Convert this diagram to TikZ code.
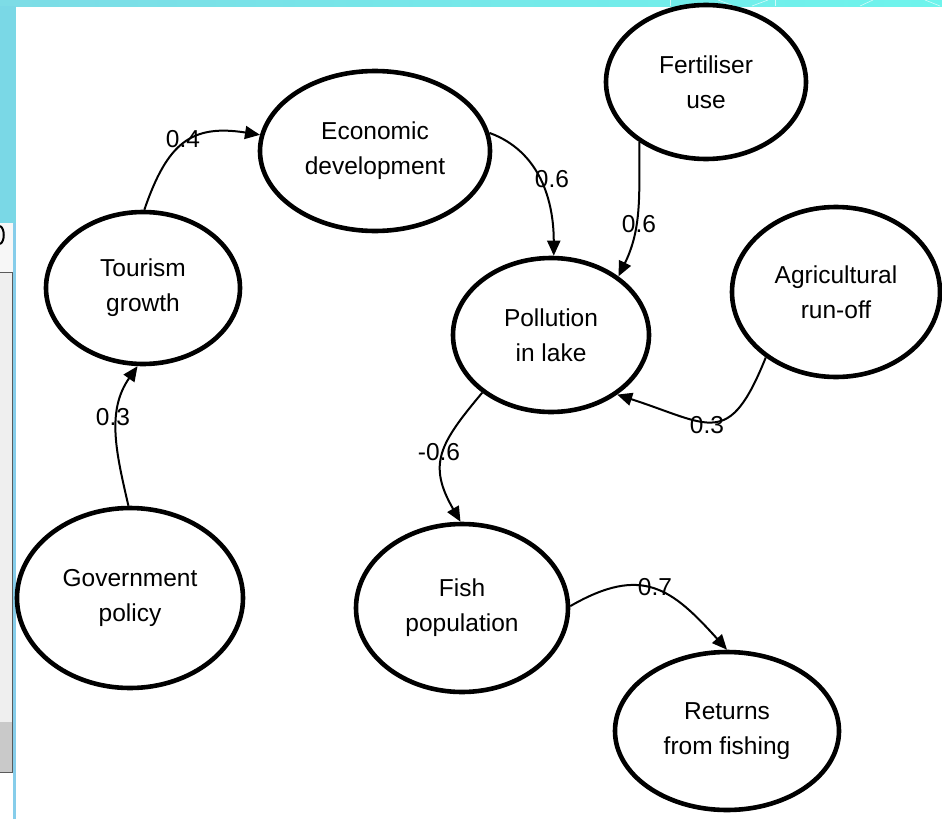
\documentclass[tikz,border=0pt]{standalone}
\usepackage{fontspec}
\setmainfont{Liberation Sans}
\usetikzlibrary{shapes.geometric,arrows.meta}

\definecolor{bandleft}{HTML}{7DDCE6}
\definecolor{bandright}{HTML}{6EF4EC}
\definecolor{stripcyan}{HTML}{7AD8E6}
\definecolor{edgeblue}{HTML}{86CDEA}
\definecolor{panelgrey}{HTML}{EFEFEF}
\definecolor{paneldark}{HTML}{C9C9C9}
\definecolor{panelline}{HTML}{5A5A5A}

\begin{document}
\begin{tikzpicture}[x=1pt,y=1pt,
  bubble/.style={ellipse, draw, line width=4.6pt, inner sep=0pt, align=center,
                 font=\fontsize{24.5}{35}\selectfont},
  link/.style={line width=2pt, -{Triangle[length=15pt,width=13pt]}},
  weight/.style={font=\fontsize{24.5}{28}\selectfont, inner sep=0pt}]

  \useasboundingbox (0,0) rectangle (942,-819);

  % page background and frame
  \fill[white] (0,0) rectangle (942,-819);
  \shade[left color=bandleft, right color=bandright] (0,0) rectangle (942,-6);
  \fill[stripcyan] (0,-6) rectangle (16,-223);
  \begin{scope}[white, opacity=0.7, line width=0.6pt]
    \draw (670,0) -- (670,-6);
    \draw (718,0) -- (734,-6);
    \draw (768,0) -- (752,-6);
    \draw (775,0) -- (775,-6);
    \draw (873,0) -- (860,-6);
    \draw (925,0) -- (940,-6);
  \end{scope}

  % side panel
  \fill[panelgrey] (0,-223) rectangle (13,-772);
  \fill[white!97!black] (0,-223) rectangle (13,-272);
  \fill[paneldark] (0,-722) rectangle (12.5,-772);
  \draw[panelline, line width=1pt] (0,-272) -- (12.5,-272) -- (12.5,-772) -- (0,-772);
  \draw[line width=2pt] (0,-226) .. controls (5,-228) and (5,-242) .. (0,-244);
  \fill[edgeblue] (13,-223) rectangle (16,-819);

  % factors
  \node[bubble, minimum width=226pt, minimum height=180pt] (gov)  at (130,-598) {Government\\policy};
  \node[bubble, minimum width=194pt, minimum height=152pt] (tour) at (143,-288) {Tourism\\growth};
  \node[bubble, minimum width=230pt, minimum height=160pt] (econ) at (375,-151) {Economic\\development};
  \node[bubble, minimum width=200pt, minimum height=154pt] (fert) at (706,-82)  {Fertiliser\\use};
  \node[bubble, minimum width=208pt, minimum height=170pt] (agri) at (836,-292) {Agricultural\\run-off};
  \node[bubble, minimum width=196pt, minimum height=154pt] (poll) at (551,-335) {Pollution\\in lake};
  \node[bubble, minimum width=212pt, minimum height=168pt] (fish) at (462,-608) {Fish\\population};
  \node[bubble, minimum width=224pt, minimum height=158pt] (ret)  at (727,-731) {Returns\\from fishing};

  % causal links
  \draw[link] (gov.91)  to[out=103, in=235] (tour.266);
  \draw[link] (tour.89) to[out=71, in=171, looseness=1.3] (econ.172);
  \draw[link] (econ.9)  to[out=-20, in=90] (poll.88);
  \draw[link] (fert.222) to[out=270, in=64] (poll.41);
  \draw[link] (agri.223) to[out=248, in=-18, looseness=1.65] (poll.318);
  \draw[link] (poll.220) to[out=230, in=120, looseness=1.3] (fish.91);
  \draw[link] (fish.1)  to[out=30, in=132, looseness=1.3] (ret.90);

  % link weights
  \node[weight] (w1) at (113,-417) {0.3};
  \node[weight] (w2) at (183,-139) {0.4};
  \node[weight] (w3) at (552,-179) {0.6};
  \node[weight] (w4) at (639,-224) {0.6};
  \node[weight] (w5) at (707,-425) {0.3};
  \node[weight] (w6) at (439,-452) {-0.6};
  \node[weight] (w7) at (655,-587) {0.7};
\end{tikzpicture}
\end{document}
